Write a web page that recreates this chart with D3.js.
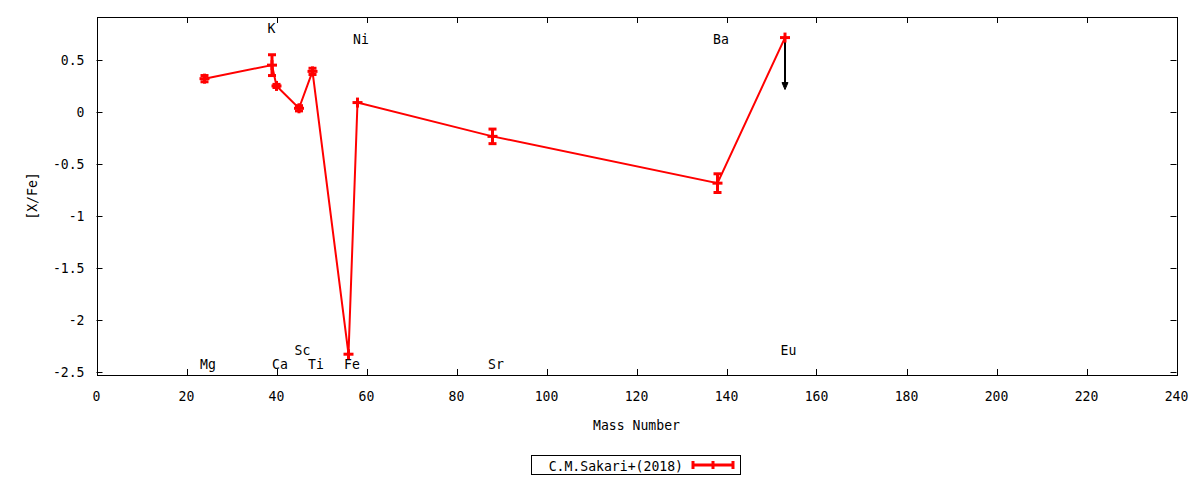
<!DOCTYPE html>
<html>
<head>
<meta charset="utf-8">
<script src="https://cdn.jsdelivr.net/npm/d3@7"></script>
<style>
  body { margin: 0; background: #fff; }
  text { font-family: "DejaVu Sans Mono", monospace; font-size: 14.6px; fill: #000; }
</style>
</head>
<body>
<div id="chart"></div>
<script>
// Sakari+ (2018) abundance pattern, [X/Fe] vs mass number
var elements = ['Mg', 'K', 'Ca', 'Sc', 'Ti', 'Fe', 'Ni', 'Sr', 'Ba', 'Eu'];
var massNumber = [24, 39, 40, 45, 48, 56, 58, 88, 138, 153];
var xFe = [0.32, 0.45, 0.25, 0.035, 0.39, -2.33, 0.09, -0.235, -0.685, 0.715];
var xFeErr = [0.03, 0.10, 0.015, 0.025, 0.03, 0, 0, 0.07, 0.09, 0];
var upperLimit = [false, false, false, false, false, false, false, false, false, true];
var labelY = [-2.42, 0.81, -2.42, -2.28, -2.42, -2.42, 0.71, -2.42, 0.71, -2.28];

var xTicks = d3.range(0, 241, 20);
var yTicks = [0.5, 0, -0.5, -1, -1.5, -2, -2.5];
var seriesName = 'C.M.Sakari+(2018)';

(function () {
  'use strict';

  var width = 1200, height = 480;
  var margin = {top: 17, right: 23.5, bottom: 105, left: 96.5};
  var red = '#ff0000';
  var squeeze = 0.9; // gnuplot's mono font is a bit narrower than DejaVu

  var svg = d3.select('#chart').append('svg')
    .attr('width', width)
    .attr('height', height);

  var x = d3.scaleLinear().domain([0, 240]).range([margin.left, width - margin.right]);
  var y = d3.scaleLinear().domain([-2.53, 0.913]).range([height - margin.bottom, margin.top]);

  var x0 = x.range()[0], x1 = x.range()[1];
  var y0 = y.range()[0], y1 = y.range()[1];
  var tick = 6;

  function place(px, py, rot) {
    return 'translate(' + px + ',' + py + ')' + (rot ? ' rotate(' + rot + ')' : '') + ' scale(' + squeeze + ',1)';
  }

  // ticks, mirrored on all four sides (gnuplot style)
  var axes = svg.append('g').attr('stroke', '#000').attr('stroke-width', 1);
  xTicks.forEach(function (t) {
    var px = Math.round(x(t)) + 0.5;
    axes.append('line').attr('x1', px).attr('x2', px).attr('y1', y0).attr('y2', y0 - tick);
    axes.append('line').attr('x1', px).attr('x2', px).attr('y1', y1).attr('y2', y1 + tick);
  });
  yTicks.forEach(function (t) {
    var py = Math.round(y(t)) + 0.5;
    axes.append('line').attr('x1', x0).attr('x2', x0 + tick).attr('y1', py).attr('y2', py);
    axes.append('line').attr('x1', x1).attr('x2', x1 - tick).attr('y1', py).attr('y2', py);
  });
  axes.append('rect')
    .attr('x', Math.round(x0) + 0.5).attr('y', y1 + 0.5)
    .attr('width', Math.round(x1 - x0)).attr('height', y0 - y1)
    .attr('fill', 'none');

  svg.append('g').selectAll('text').data(xTicks).enter().append('text')
    .attr('transform', function (d) { return place(x(d), y0 + 26); })
    .attr('text-anchor', 'middle')
    .text(function (d) { return d; });

  svg.append('g').selectAll('text').data(yTicks).enter().append('text')
    .attr('transform', function (d) { return place(x0 - 12, y(d) + 5.5); })
    .attr('text-anchor', 'end')
    .text(function (d) { return d; });

  svg.append('text')
    .attr('transform', place((x0 + x1) / 2, 430))
    .attr('text-anchor', 'middle')
    .text('Mass Number');

  svg.append('text')
    .attr('transform', place(37, (y0 + y1) / 2, -90))
    .attr('text-anchor', 'middle')
    .text('[X/Fe]');

  // element labels
  svg.append('g').selectAll('text').data(elements).enter().append('text')
    .attr('transform', function (d, i) { return place(x(massNumber[i] - 1), y(labelY[i]) + 5.5); })
    .text(function (d) { return d; });

  var pts = elements.map(function (d, i) {
    return {m: massNumber[i], v: xFe[i], e: xFeErr[i], ul: upperLimit[i]};
  });

  // upper limit arrow
  var arrow = svg.append('g').attr('stroke', '#000').attr('fill', '#000');
  pts.filter(function (d) { return d.ul; }).forEach(function (d) {
    var px = x(d.m), pTop = y(d.v), pBot = y(d.v - 0.5);
    arrow.append('line').attr('x1', px).attr('x2', px).attr('y1', pTop).attr('y2', pBot - 4).attr('stroke-width', 2);
    arrow.append('path')
      .attr('d', 'M' + (px - 3) + ',' + (pBot - 7) + 'L' + (px + 3) + ',' + (pBot - 7) + 'L' + px + ',' + pBot + 'Z')
      .attr('stroke-width', 1);
  });

  var line = d3.line()
    .x(function (d) { return x(d.m); })
    .y(function (d) { return y(d.v); });

  svg.append('path')
    .datum(pts)
    .attr('d', line)
    .attr('fill', 'none')
    .attr('stroke', red)
    .attr('stroke-width', 2);

  var marks = svg.append('g').attr('stroke', red).attr('stroke-width', 3).attr('fill', 'none');
  pts.forEach(function (d) {
    var px = x(d.m), py = y(d.v);
    if (d.e > 0) {
      var ya = y(d.v + d.e), yb = y(d.v - d.e);
      marks.append('line').attr('x1', px).attr('x2', px).attr('y1', ya).attr('y2', yb);
      marks.append('line').attr('x1', px - 4).attr('x2', px + 4).attr('y1', ya).attr('y2', ya);
      marks.append('line').attr('x1', px - 4).attr('x2', px + 4).attr('y1', yb).attr('y2', yb);
    }
    marks.append('line').attr('x1', px - 5).attr('x2', px + 5).attr('y1', py).attr('y2', py);
    marks.append('line').attr('x1', px).attr('x2', px).attr('y1', py - 5).attr('y2', py + 5);
  });

  // legend
  var leg = svg.append('g');
  leg.append('rect')
    .attr('x', 531.5).attr('y', 455.5)
    .attr('width', 209).attr('height', 19)
    .attr('fill', 'none').attr('stroke', '#000');
  leg.append('text')
    .attr('transform', place(683, 470.5))
    .attr('text-anchor', 'end')
    .text(seriesName);
  var lg = leg.append('g').attr('stroke', red).attr('stroke-width', 3);
  lg.append('line').attr('x1', 692).attr('x2', 734).attr('y1', 465).attr('y2', 465);
  lg.append('line').attr('x1', 693).attr('x2', 693).attr('y1', 461).attr('y2', 469);
  lg.append('line').attr('x1', 733).attr('x2', 733).attr('y1', 461).attr('y2', 469);
  lg.append('line').attr('x1', 713).attr('x2', 713).attr('y1', 461).attr('y2', 469);
})();
</script>
</body>
</html>
